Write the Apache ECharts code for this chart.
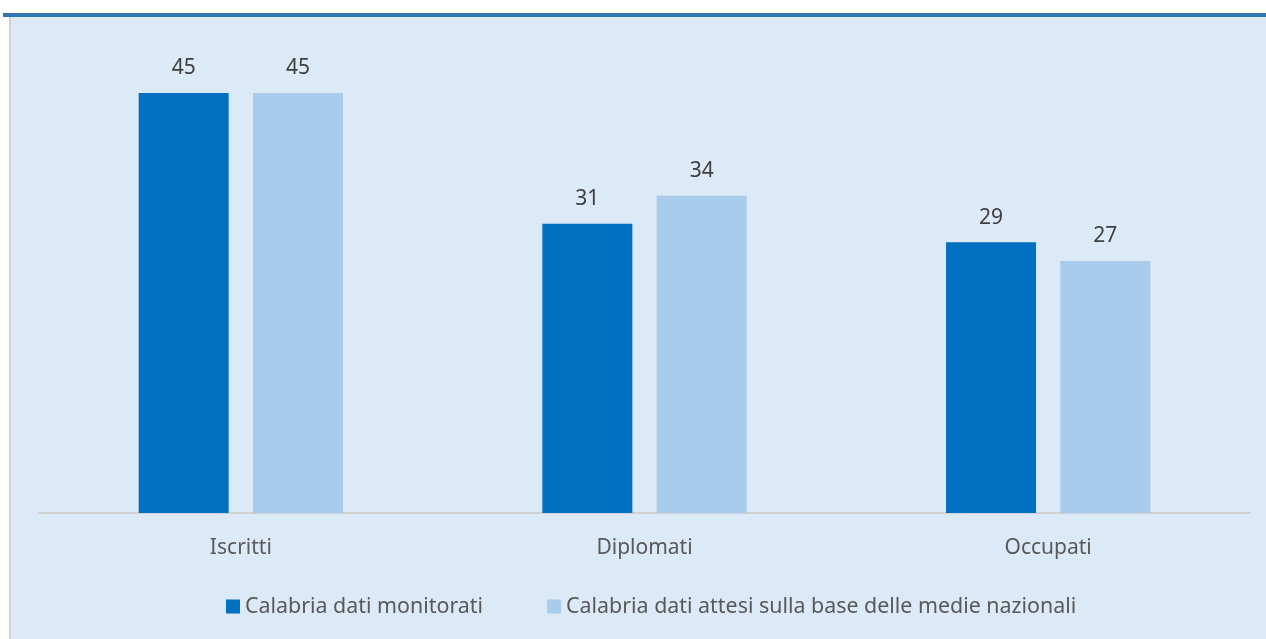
<!DOCTYPE html>
<html><head><meta charset="utf-8">
<script src="https://cdn.jsdelivr.net/npm/echarts@6/dist/echarts.min.js"></script>
<style>html,body{margin:0;padding:0;background:#fff}#c{width:1266px;height:639px}</style>
</head><body><div id="c"></div>
<script>
const categories = ['Iscritti', 'Diplomati', 'Occupati'];
const monitorati = [45, 31, 29];
const attesi = [45, 34, 27];
const seriesNames = ['Calabria dati monitorati', 'Calabria dati attesi sulla base delle medie nazionali'];

const chart = echarts.init(document.getElementById('c'));
const font = 'Noto Sans';
chart.setOption({
  animation: false,
  backgroundColor: '#ffffff',
  graphic: [
    {type: 'rect', z: -10, shape: {x: 10, y: 17, width: 1256, height: 622}, style: {fill: '#DCE9F6'}},
    {type: 'rect', z: -9, shape: {x: 3, y: 13, width: 1263, height: 4}, style: {fill: '#2E75B6'}},
    {type: 'rect', z: -9, shape: {x: 9, y: 17, width: 2, height: 622}, style: {fill: '#D0D4D8'}}
  ],
  grid: {left: 39, right: 16, top: 46.3, bottom: 126},
  legend: {
    bottom: 17, left: 221, itemWidth: 14, itemHeight: 14, itemGap: 64,
    icon: 'rect',
    textStyle: {fontFamily: font, fontSize: 21.4, color: '#595959'},
    data: seriesNames
  },
  xAxis: {
    type: 'category', data: categories,
    axisLine: {lineStyle: {color: '#D0D0D0', width: 2}},
    axisTick: {show: false},
    axisLabel: {fontFamily: font, fontSize: 21, color: '#595959', margin: 25}
  },
  yAxis: {type: 'value', min: 0, max: 50, show: false, splitLine: {show: false}},
  series: [
    {name: seriesNames[0], type: 'bar', data: monitorati, barWidth: 90, barGap: '27%',
      itemStyle: {color: '#0070C0'},
      label: {show: true, position: 'top', distance: 14, fontFamily: font, fontSize: 21, color: '#404040'}},
    {name: seriesNames[1], type: 'bar', data: attesi, barWidth: 90,
      itemStyle: {color: '#A9CBEC'},
      label: {show: true, position: 'top', distance: 14, fontFamily: font, fontSize: 21, color: '#404040'}}
  ]
});
</script></body></html>
